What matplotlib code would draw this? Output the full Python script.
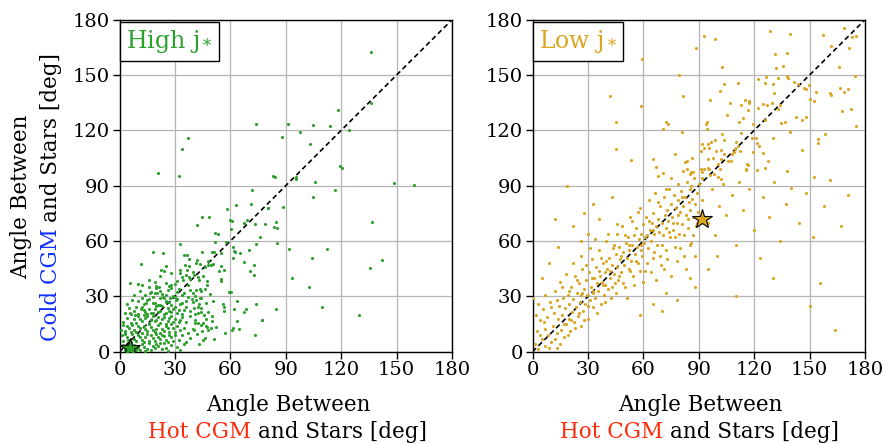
import matplotlib
matplotlib.use('Agg')
import matplotlib.pyplot as plt
from matplotlib.transforms import IdentityTransform

plt.rcParams['font.family'] = ['DejaVu Serif']
plt.rcParams['mathtext.fontset'] = 'dejavuserif'

# ---------------- data ----------------
ticks = [0, 30, 60, 90, 120, 150, 180]
panel_labels = [r'High $\mathrm{j}_*$', r'Low $\mathrm{j}_*$']

high_sparse = [(136.2,162.7),(136,134.8),(118.4,131.2),(73.7,123.4),(91,123.4),(104.7,122.7),(114.2,122.3),
    (97.7,118.9),(124.5,120),(37.1,116),(88.1,116.2),(102.9,112.8),(33.9,110.1),(21.1,97.1),(32.4,95),
    (83.1,95.5),(84.3,94.8),(95.7,93.9),(95.5,94.6),(105.8,91.9),(119.3,100.7),(120.2,99.5),(148.5,91.3),
    (159.3,90.6),(116.4,87.6),(104.7,83.9),(80.4,77.8),(88.3,78.2),(78.5,69),(84.9,70.3),(83.8,67.6),
    (85.4,67),(136.9,70.4),(85,59.1),(92,55.7),(112.6,55.7),(104.3,51),(142.3,49.7),(135.5,45.6),
    (93.5,40),(102.5,35.3),(84.7,23.2),(109.5,24.5),(129.4,19.8),(77.1,17.3)]
high_mid = [(71.6,87.6),(63.2,79.3),(71.2,80.2),(58.2,77.5),(80.5,77.7),(44.5,73.3),(48.6,73.3),(42.2,68.5),
    (59.6,71.3),(60.9,70.6),(67.2,69.9),(69,71.3),(73.1,69),(51.7,64.3),(53.4,63.6),(60.5,66.3),(75.8,62.3),
    (33,58.4),(51.7,59.3),(57.5,59.3),(61.2,56.5),(74,58.2),(18.2,54),(23.4,53.3),(34.8,52.2),(36.6,52.2),
    (44.5,53.9),(50.3,53.9),(51.2,53.9),(55.1,53.3),(61.8,54.6),(62.5,54),(65,53.3),(70.1,55.1),(37.7,50.4),
    (42.2,49.5),(47.7,49.3),(61.2,50.8),(67.6,48.4),(11.5,47.7),
    (72.6,47),(70.8,43.8),(72.6,41.5),(41.6,47.9),(43.4,47.6),(49.7,47),(50.6,47.6),(54.8,46.5),(47.9,47),
    (46.1,45.8),(53.7,44),(55.1,39.6),(55.1,38.5),(56.6,44.3),(47.4,38.5),(42.5,40.7),(40.2,41.6),(47.6,36.2),
    (46.1,34.1),(41.6,33.5),(43.4,33.9),(59.1,32.6),(60.2,32.1),(48.8,31.4),(39.8,31.7),(50.8,27.6),(43.4,29),
    (44.3,29),(41.6,28.1),(39.3,28.5),(56,25.9),(56.4,24.2),(56.4,21.8),(46.8,26.6),(63.8,27.6),(73.7,25.9),
    (62,23.1),(68.3,23.1),(67.2,21.6),(77.1,17.1),(73.5,9.2),(63.8,16.4),(64.7,12.4),(61.5,12.8),(61,11.5),
    (57,10.4),(42.5,24.5),(40.4,23.9),(42.5,20.9),(44.3,21.5),(45.8,20),(41.1,20.4),(47,17.7),(50.1,16.8),
    (40.7,15.5),(42.5,15.8),(40.4,11.9),(44.7,11.4),(47,13.7),(47.6,13.4),(49.7,13.1),(46.1,7.4),(51.2,6.9),
    (42.9,4.3)]
high_cluster = [(5.9,37.5),(25,46.5),(22.2,44.3),(20,35.7),(21.2,35.3),(12.4,36),(16.4,31.7),(20.4,31.7),
    (28.1,36.2),(32.6,42.5),(35.3,47),(37.7,46.6),(36.8,44.3),(37.7,40.7),(34.4,38.9),(23.6,29.9),(25.4,27.7),
    (27.2,29),(30.8,28.1),(14.6,26.3),(18.2,26.6),(21.8,25.4),(9.2,24.5),(11.9,23.1),(5.6,20.9),(8.3,20),
    (2,14.6),(3.8,13.7),(2.9,10.1),(1.1,9.2),(4.7,6.5),(2,3.8),
    (3,1),(5,0.5),(7,2),(9,1),(11,0.8),(13,2.5),(15,1.5),(17,0.7),(19,2),(21,3),(23,1.2),(25,2.2),(8,3.5),
    (12,4),(16,4.5),(20,4.2),(24,4.8),(28,3.5),(31,2.4),(35,4.1),(4,3),(10,2),(18,3.3),(26,0.6),(14,0.4),
    (6,4.6),(33,1),(22,4.9),
    (2,6),(4,8),(6,5.5),(8,7),(10,9),(12,6.3),(14,8.2),(16,5.8),(18,7.5),(20,9.5),(22,6.8),(24,8.5),(26,5.4),
    (28,7.9),(30,9.2),(32,6.1),(34,8.8),(38,7.3),(42,9.6),(11,7.7),(15,9.8),(19,6),(23,9),(27,8.8),(13,5.2),
    (17,9.1),(9,5.7),(21,8),(25,6.5),(29,5.9),(36,5.2),(7,9.4),(45,6.6),(3,9.8),
    (1,12),(3,11),(5,13),(7,14.5),(9,10.5),(11,12.6),(13,14),(15,11.2),(17,13.3),(19,10.8),(21,14.6),
    (23,12.2),(25,13.8),(27,10.6),(29,12.9),(31,14.2),(33,11.5),(35,13.1),(37,10.4),(40,12.4),(44,14.4),
    (48,11.7),(12,10.2),(16,14.8),(20,12.5),(24,11),(28,14.9),(14,12.1),(18,11.9),(22,10.1),(26,12.6),
    (8,12),(10,14.2),(6,10.8),(30,10.9),(52,13.6),
    (2,16),(4,18.5),(6,15.5),(8,17.5),(10,19.2),(12,16.4),(14,18.1),(16,15.7),(18,19.6),(20,17),(22,15.3),
    (24,18.8),(26,16.6),(28,19.4),(30,17.8),(32,15.9),(34,18.6),(36,16.2),(38,19.1),(41,17.2),(13,19.8),
    (17,17.4),(21,19),(25,15.1),(29,16.1),(11,17.6),(15,19.4),(19,16.8),(23,17.7),(9,15.4),(27,18.2),
    (33,17),(45,15.6),(50,19.3),
    (3,21),(5,23.5),(8,22),(10,20.5),(12,24.2),(14,21.6),(16,23.4),(18,20.8),(20,24.6),(22,22.3),(24,20.3),
    (26,23.9),(28,21.4),(30,24.1),(32,22.7),(34,20.6),(36,24.4),(38,21.9),(15,20.2),(19,22.9),(23,24.9),
    (27,22.1),(31,20.9),(13,22.8),(17,21.2),(21,21.7),(25,21.1),(29,23.2),(35,22.6),(44,23.7),(48,21.3),
    (6,20.4),
    (4,26),(7,28),(10,27.3),(13,25.6),(16,28.7),(19,26.5),(22,29.3),(25,27.1),(28,25.4),(31,28.4),(34,26.3),
    (37,29.5),(40,27),(18,29.8),(21,25.2),(24,28.9),(27,26.9),(30,29.9),(33,25.8),(15,27.8),(12,29),
    (36,27.7),(43,25.9),
    (8,31),(11,33),(14,30.6),(17,32.4),(20,34.4),(23,31.3),(26,33.6),(29,30.4),(32,34.2),(35,31.8),(38,33.3),
    (41,30.2),(19,31.9),(25,30.9),(28,34.7),(31,32.2),(34,30.7),(22,32.8),(44,33),(16,34.9),
    (10,36.5),(16,39),(22,41),(25,37.5),(28,42.5),(31,38.3),(34,40.6),(37,36.4),(40,43.3),(43,38.9),
    (27,35.6),(33,44.5),(30,36.7),(24,43.8),(36,41.8),(19,37.9),(45,41.2),(38,39.6)]

low_upper = [(39.3,173.5),(92.7,171.3),(98.6,169.7),(88.5,164.9),(59.3,158.7),(102.6,154.4),(128.4,173.7),
    (139.2,172.4),(131.2,161.4),(137.6,162),(131.8,154),(135.6,155),(157.2,171.7),(168.7,175.3),(172.7,170.8),
    (175,171.3),(161.5,165.8),(171.6,164.9),(165.8,154.6),(174.5,149.3),(79.2,150.1),(122.3,148.1),
    (126.2,149.2),(133.1,148.6),(137.9,149.6),(138.1,148.6),(103.7,145.2),(111.5,145.5),(125.7,145.5),
    (130.2,145.2),(141.7,146.3),(143.9,145.2),(149.6,144.5),(146.9,142.9),(148.2,142.2),(166.7,142.7),
    (168.9,140.7),(170.7,142.5),(153.6,140.7),(161,140),(161.7,139.4),(41.9,138.7),(81.7,138.9),
    (101.5,141.2),(130.5,140),(96.1,136.6),(115.2,136.4),(117,136),(117,134.6),(112.9,133.9),(106.9,134.8),
    (121.9,131.9),(125,134.4),(126.9,133.5),(129.6,134.6),(132.7,131.7),(133.9,133.9),(116.9,131),
    (150.4,137.1),(152.2,136),(172.5,131.7),(167.3,130.4),(58.5,133),(105.5,128.1),(142.8,127.4),
    (148.2,127),(146,125.4),(45.3,124.3),(72.5,124.3),(73.6,123.6),(94.7,124.5),(93.8,123.2),(111.8,124.3),
    (113.8,126.5),(119.6,123.6),(125.8,125.4),(134.5,123.9),(136.5,124.7),(175,122.5),(70.4,120.9),
    (94.2,120.5),(81,119.3),(139.2,119.3),(158.3,118),(154.7,115.1),(154.7,112.9),(45.3,109.7),(53.4,104.2),
    (65.1,104.7),(66.9,100),(70.5,97.1),(67.8,95.1),(77.4,107.4),(75,94.4),(145.7,109.2),(152.2,94.8),
    (137.9,98.2),(121.5,98.4),(126,99.8),(127.7,103.2),(124.6,107.7),(130.2,115.7),(118.8,115.8),
    (121.2,116),(121.5,113.3),(122.6,111.5),(119.3,108.1),(115.9,101.6),(116.9,101.1),(115.8,98.4),
    (108.2,107.4),(102.6,118.2),(103.5,114.6),(112.9,118.7),(105.7,103.4),(91.6,112.6),(94.9,112.8),
    (96.5,113.7),(98.8,114.6),(92.7,110.4),(95.4,110.4),(91.2,108.6),(99.6,108.8),(102,109.2),(102,104.7),
    (97.9,104.9),(94.9,104.7),(103.9,107),(110,113.7),(111.1,111.5),(109.8,110.1),(109.3,108.3),
    (107.5,103.4),(100.6,102),(91.2,99.3),(93.1,98.9),(94.9,99.5),(95.6,98.8),(83.7,98.9),(86,97.5),
    (86.9,97.5),(82.3,102.9),(83.7,103.2),(86.4,105.2),(81.3,98),(85,96.6),(101.7,98.9),(100.3,94.8),
    (102,93.9),(98.1,96.6),(96.3,95.7),(91.6,97.5),(91.6,94.4),(115.6,98.8),(112.2,109)]
low_lower = [(0.5,29),(1.5,4),(2.5,11),(3,1.5),(4,17),(5,7),(5.5,23),(6.5,3),(7,12.5),(8,19),(8.5,9),
    (9.5,27),(10,5.5),(11,14),(11.5,21),(12,33),(13,10),(13.5,2),(14,17.5),(14.5,25),(15,38),
    (15.5,12),(16,20),(16.5,29),(17,8),(17.5,23.5),(18,15),(18.5,89.7),(19,31),(19.5,18),(20,26),(20.5,11),
    (21,35),(21.5,21.5),(22,28.5),(22.5,16),(23,41),(23.5,24),(24,32),(24.5,19.5),(25,37),(25.5,27),(26,14),
    (26.5,30.5),(27,45),(27.5,22),(28,34),(28.5,26),(29,39),(29.5,31),(30,18),
    (30.5,43),(31,28),(31.5,35),(32,50),(32.5,32),(33,24),(33.5,40),(34,29),(34.5,46),(35,37),(35.5,33),
    (36,55),(36.5,41),(37,26),(37.5,38),(38,48),(38.5,31),(39,43),(39.5,36),(40,60),(40.5,45),(41,34),
    (41.5,51),(42,40),(42.5,29),(43,47),(43.5,56),(44,42),(44.5,37),(45,53),
    (45.5,64),(46,46),(46.5,39),(47,57),(47.5,50),(48,43),(48.5,68),(49,54),(49.5,47),(50,35),(50.5,59),
    (51,51),(51.5,62),(52,45),(52.5,55),(53,73),(53.5,49),(54,58),(54.5,41),(55,63),(55.5,53),(56,67),
    (56.5,57),(57,48),(57.5,61),(58,78),(58.5,55),(59,64),(59.5,52),(60,69),
    (60.5,59),(61,44),(61.5,73),(62,63),(62.5,56),(63,82),(63.5,66),(64,60),(64.5,70),(65,51),(65.5,75),
    (66,64),(66.5,86),(67,68),(67.5,58),(68,72),(68.5,65),(69,79),(69.5,47),(70,70),(70.5,63),(71,84),
    (71.5,74),(72,67),(72.5,55),(73,77),(73.5,71),(74,88),(74.5,62),(75,80),
    (75.5,73),(76,66),(76.5,85),(77,57),(77.5,78),(78,70),(78.5,91),(79,82),(79.5,64),(80,76),(80.5,87),
    (81,69),(81.5,79),(82,52),(82.5,84),(83,74),(83.5,92),(84,67),(84.5,81),(85,77),(85.5,88),(86,59),
    (86.5,83),(87,73),(87.5,94),(88,80),(88.5,68),(89,86),(89.5,76),(90,91),
    (92,82),(95,70),(97,88),(99,63),(101,79),(103,91),(105,74),(108,85),(110,58),(112,92),(114,77),
    (117,88),(120,66),(123,51),(125,84),(128,73),(131,92),(134,60),(137,80),(140,89),(144,70),(148,86),
    (152,62),(155.4,37.3),(158,79),(161,93),(164,12),(167,68),(171,85),(150,25),(130,40),(110,30)]
low_extra = [(2,20),(3,26),(4,9),(6,16),(7,31),(9,2),(10,24),(12,7),(13,28),(15,4),(16,35),(17,15),(18,42),
    (19,9),(20,33),(21,17),(22,48),(23,13),(24,39),(25,21),(26,52),(27,32),(28,17),(29,47),(30,25),(31,56),
    (32,40),(33,33),(34,61),(35,21),(36,44),(37,51),(38,36),(39,27),(40,49),(41,64),(42,44),(43,35),(44,58),
    (45,32),(46,69),(47,41),(48,52),(49,37),(50,63),(51,29),(52,58),(53,44),(54,71),(55,36),(56,49),(57,76),
    (58,44),(59,58),(60,38),(61,62),(62,48),(63,71),(64,43),(65,66),(66,54),(67,39),(68,81),(69,52),(70,58),
    (71,45),(72,88),(73,50),(74,65),(75,41),(76,70),(77,62),(78,49),(79,74),(80,56),(81,84),(82,63),(83,45),
    (84,72),(85,58),(86,90),(87,63),(88,52),(89,70),
    (14,57),(22,68),(28,75),(33,80),(9,48),(36,72),(43,84),(26,60),(65,26),(72,32),(78,28),(85,40),(70,22),
    (58,20),(95,45),(100,52),(88,35),(12,72),(5,40),(30,64)]

high_star = (5.6, 2.0)
low_star = (91.8, 72.0)

GREEN = '#2ca02c'
GOLD = '#daa520'
BLUE = '#1030ff'
RED = '#ff2a0a'

high_x, high_y = zip(*(high_sparse + high_mid + high_cluster))
low_x, low_y = zip(*(low_upper + low_lower + low_extra))

W, H = 885, 444
fig = plt.figure(figsize=(W / 100, H / 100), dpi=100)
ax1 = fig.add_axes([119.5 / W, (H - 351.7) / H, 332.5 / W, 332 / H])
ax2 = fig.add_axes([532.5 / W, (H - 351.7) / H, 332.5 / W, 332 / H])

panels = [(ax1, high_x, high_y, GREEN, high_star, panel_labels[0]),
          (ax2, low_x, low_y, GOLD, low_star, panel_labels[1])]
for ax, xs, ys, col, star, lab in panels:
    ax.set_axisbelow(True)
    ax.grid(True, color='#b5b5b5', lw=0.9)
    ax.plot([0, 180], [0, 180], color='k', ls=(0, (3, 2)), lw=1.2, zorder=2)
    ax.scatter(xs, ys, s=5, c=col, linewidths=0, zorder=3)
    ax.plot([star[0]], [star[1]], marker='*', ms=15, mfc=col, mec='k', mew=0.8, zorder=4)
    ax.set_xlim(0, 180)
    ax.set_ylim(0, 180)
    ax.set_xticks(ticks)
    ax.set_yticks(ticks)
    ax.tick_params(labelsize=14, length=5, width=1, direction='out', pad=2)
    for sp in ax.spines.values():
        sp.set_linewidth(1.0)
    ax.text(0.02, 0.975, lab, transform=ax.transAxes, color=col, fontsize=17,
            va='top', ha='left',
            bbox=dict(boxstyle='square,pad=0.25', fc='white', ec='black', lw=1))

renderer = fig.canvas.get_renderer()
ident = IdentityTransform()


def colored_line(cx, cy, parts, rotation=0, fontsize=15.5):
    t1 = fig.text(0, 0, 'a a', fontsize=fontsize, transform=ident)
    t2 = fig.text(0, 0, 'aa', fontsize=fontsize, transform=ident)
    sp = t1.get_window_extent(renderer).width - t2.get_window_extent(renderer).width
    t1.remove()
    t2.remove()
    texts = [fig.text(0, 0, s, color=c, fontsize=fontsize, rotation=rotation,
                      rotation_mode='anchor', ha='left', va='baseline', transform=ident)
             for s, c in parts]
    lens = []
    for t in texts:
        bb = t.get_window_extent(renderer)
        lens.append(bb.height if rotation == 90 else bb.width)
    total = sum(lens) + sp * (len(texts) - 1)
    pos = -total / 2
    for t, L in zip(texts, lens):
        if rotation == 90:
            t.set_position((cx, cy + pos))
        else:
            t.set_position((cx + pos, cy))
        pos += L + sp


# y label (left panel)
colored_line(27, H - 197, [('Angle Between', 'black')], rotation=90)
colored_line(57, H - 197, [('Cold CGM', BLUE), ('and Stars [deg]', 'black')], rotation=90)
# x labels
for cx in (288, 700):
    colored_line(cx, H - 410.7, [('Angle Between', 'black')])
    colored_line(cx, H - 438.3, [('Hot CGM', RED), ('and Stars [deg]', 'black')])

fig.savefig('out.png', dpi=100)
